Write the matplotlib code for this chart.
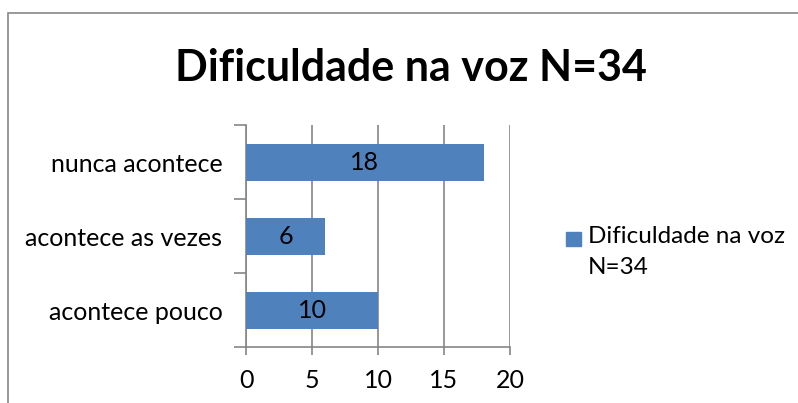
import matplotlib.pyplot as plt
from matplotlib.patches import Rectangle

categories = ["acontece pouco", "acontece as vezes", "nunca acontece"]
values = [10, 6, 18]
x_ticks = [0, 5, 10, 15, 20]
series_name = "Dificuldade na voz\nN=34"
title = "Dificuldade na voz N=34"

BAR = "#4F81BD"
GRID = "#868686"

plt.rcParams['font.family'] = ['Lato', 'DejaVu Sans']

fig = plt.figure(figsize=(7.98, 4.03), dpi=100)
W, H = 798, 403

# chart frame: only the top and left edges fall inside the image
fig.patches.append(Rectangle((8 / W, -0.05), 1.0, (H - 13) / H + 0.05,
                             transform=fig.transFigure, fill=False,
                             edgecolor="#888888", linewidth=1.2))

ax = fig.add_axes([246 / W, 56 / H, 264 / W, 222 / H])
pos = list(range(len(categories)))
ax.barh(pos, values, height=0.5, color=BAR, zorder=3)

for p, v in zip(pos, values):
    ax.text(v / 2, p, str(v), ha="center", va="center", fontsize=18, color="black", zorder=4)

ax.set_xlim(0, 20)
ax.set_ylim(-0.5, 2.5)
ax.set_xticks(x_ticks)
ax.set_xticklabels([str(t) for t in x_ticks], fontsize=18)
ax.set_yticks(pos)
ax.set_yticklabels(categories, fontsize=18)
ax.set_yticks([-0.5, 0.5, 1.5, 2.5], minor=True)
ax.tick_params(axis="y", which="major", length=0, pad=17)
ax.tick_params(axis="y", which="minor", length=9, color=GRID, width=1.2)
ax.tick_params(axis="x", length=6, color=GRID, width=1.2, pad=10)
ax.grid(axis="x", color=GRID, linewidth=1.2, zorder=0)

for s in ["top", "right"]:
    ax.spines[s].set_visible(False)
for s in ["left", "bottom"]:
    ax.spines[s].set_color(GRID)
    ax.spines[s].set_linewidth(1.2)

fig.text(411 / W, 1 - 68 / H, title, ha="center", va="center",
         fontsize=31, fontweight="bold")

# legend: square key beside the first line of the series name
fig.patches.append(Rectangle((566 / W, 1 - 246 / H), 15 / W, 14 / H,
                             transform=fig.transFigure, color=BAR))
fig.text(588 / W, 1 - 226 / H, series_name, ha="left", va="top",
         fontsize=17.5, linespacing=1.6)

fig.savefig("out.png", dpi=100)
